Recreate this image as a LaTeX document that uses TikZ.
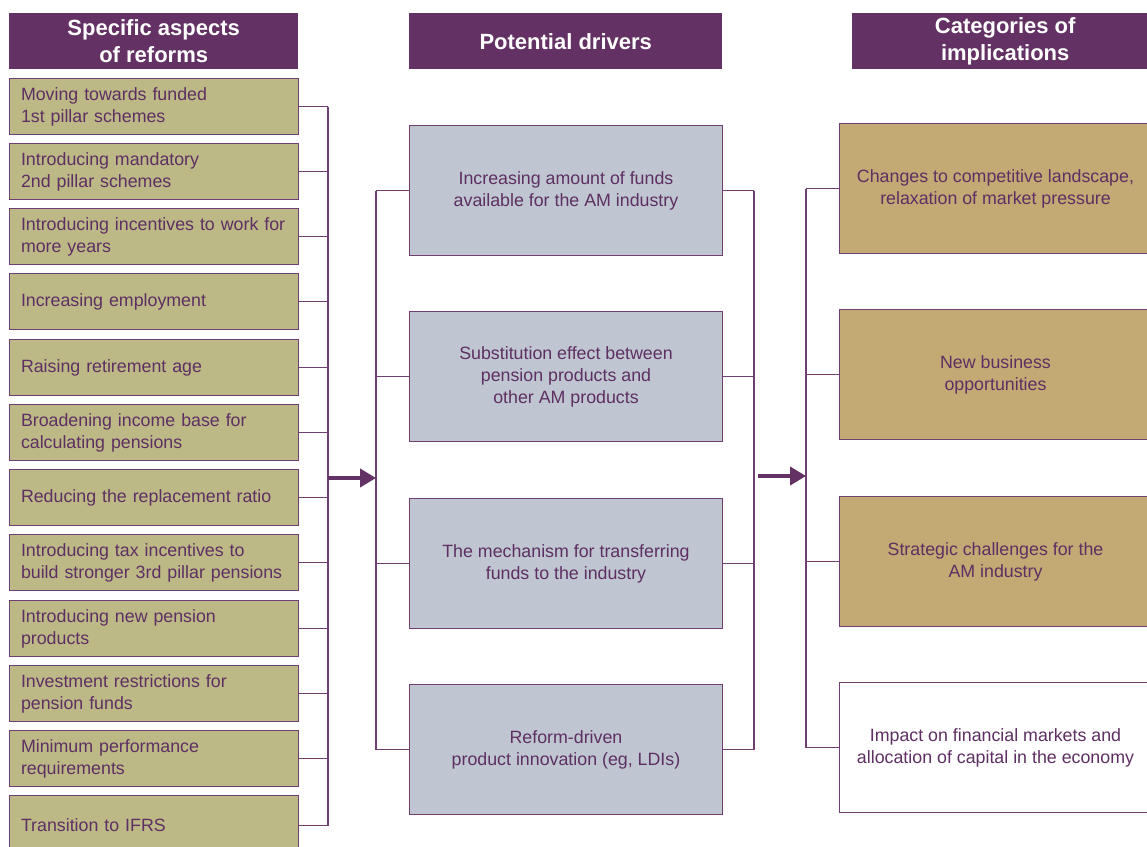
\documentclass[tikz,border=0pt]{standalone}
\usepackage{fontspec}
\setmainfont{Liberation Sans}
\usetikzlibrary{arrows.meta}
\definecolor{hdr}{HTML}{633164}
\definecolor{txt}{HTML}{5E2F62}
\definecolor{edge}{HTML}{6E3F70}
\definecolor{olive}{HTML}{BDB987}
\definecolor{slate}{HTML}{BFC5D1}
\definecolor{tan}{HTML}{C3A974}
\tikzset{
  hdrbox/.style={fill=hdr, draw=none, text=white, font=\fontsize{22}{26.5}\selectfont\bfseries, align=center, anchor=north west, minimum height=56, inner sep=0},
  lbox/.style={fill=olive, draw=edge, line width=1, text=txt, font=\fontsize{17.8}{22}\selectfont, align=left, text width=266, inner xsep=11.5, inner ysep=0, minimum height=56, anchor=north west},
  mbox/.style={fill=slate, draw=edge, line width=1, text=txt, font=\fontsize{17.8}{22}\selectfont, align=center, minimum width=313, minimum height=130, inner sep=0, anchor=north west},
  rbox/.style={fill=tan, draw=edge, line width=1, text=txt, font=\fontsize{17.8}{22}\selectfont, align=center, minimum width=312, minimum height=130, inner sep=0, anchor=north west},
  conn/.style={draw=edge, line width=1.3},
  bigarrow/.style={draw=hdr, line width=4, -{Triangle[length=16,width=18]}}
}
\begin{document}
\begin{tikzpicture}[x=1pt,y=-1pt]
\useasboundingbox (0,0) rectangle (1147,846);
% headers
\node[hdrbox, minimum width=289] (h1) at (9,13) {Specific aspects\\of reforms};
\node[hdrbox, minimum width=313] (h2) at (409,13) {Potential drivers};
\node[hdrbox, minimum width=306] (h3) at (852,13) {Categories of\\implications};
% left boxes
\node[lbox] (l1) at (9,78) {Moving towards funded\\1st pillar schemes};
\node[lbox] (l2) at (9,143) {Introducing mandatory\\2nd pillar schemes};
\node[lbox] (l3) at (9,208) {Introducing incentives to work for\\more years};
\node[lbox] (l4) at (9,273) {Increasing employment};
\node[lbox] (l5) at (9,339) {Raising retirement age};
\node[lbox] (l6) at (9,404) {Broadening income base for\\calculating pensions};
\node[lbox] (l7) at (9,469) {Reducing the replacement ratio};
\node[lbox] (l8) at (9,534) {Introducing tax incentives to\\build stronger 3rd pillar pensions};
\node[lbox] (l9) at (9,600) {Introducing new pension\\products};
\node[lbox] (l10) at (9,665) {Investment restrictions for\\pension funds};
\node[lbox] (l11) at (9,730) {Minimum performance\\requirements};
\node[lbox, minimum height=60] (l12) at (9,795) {Transition to IFRS};
% middle boxes
\node[mbox] (m1) at (409,125) {Increasing amount of funds\\available for the AM industry};
\node[mbox] (m2) at (409,311) {Substitution effect between\\pension products and\\other AM products};
\node[mbox] (m3) at (409,498) {The mechanism for transferring\\funds to the industry};
\node[mbox] (m4) at (409,684) {Reform-driven\\product innovation (eg, LDIs)};
% right boxes
\node[rbox] (r1) at (839,123) {Changes to competitive landscape,\\relaxation of market pressure};
\node[rbox] (r2) at (839,309) {New business\\opportunities};
\node[rbox] (r3) at (839,496) {Strategic challenges for the\\AM industry};
\node[rbox, fill=white] (r4) at (839,682) {Impact on financial markets and\\allocation of capital in the economy};
% bus coordinates
\coordinate (lbus) at (328,0);
\coordinate (mlbus) at (376,0);
\coordinate (mrbus) at (754,0);
\coordinate (rbus) at (806,0);
% left connectors
\foreach \i in {1,...,12} {\draw[conn] (l\i.east) -- (l\i.east -| lbus);}
\draw[conn, line width=1.8] (l1.east -| lbus) -- (l12.east -| lbus);
% middle and right connectors
\foreach \i in {1,...,4} {
  \draw[conn] (m\i.west) -- (m\i.west -| mlbus);
  \draw[conn] (m\i.east) -- (m\i.east -| mrbus);
  \draw[conn] (r\i.west) -- (r\i.west -| rbus);
}
\draw[conn] (m1.west -| mlbus) -- (m4.west -| mlbus);
\draw[conn] (m1.east -| mrbus) -- (m4.east -| mrbus);
\draw[conn] (r1.west -| rbus) -- (r4.west -| rbus);
% arrows
\coordinate (a1s) at (328,478);
\coordinate (a1e) at (376,478);
\coordinate (a2s) at (758,476);
\coordinate (a2e) at (806,476);
\draw[bigarrow] (a1s) -- (a1e);
\draw[bigarrow] (a2s) -- (a2e);
\end{tikzpicture}
\end{document}
